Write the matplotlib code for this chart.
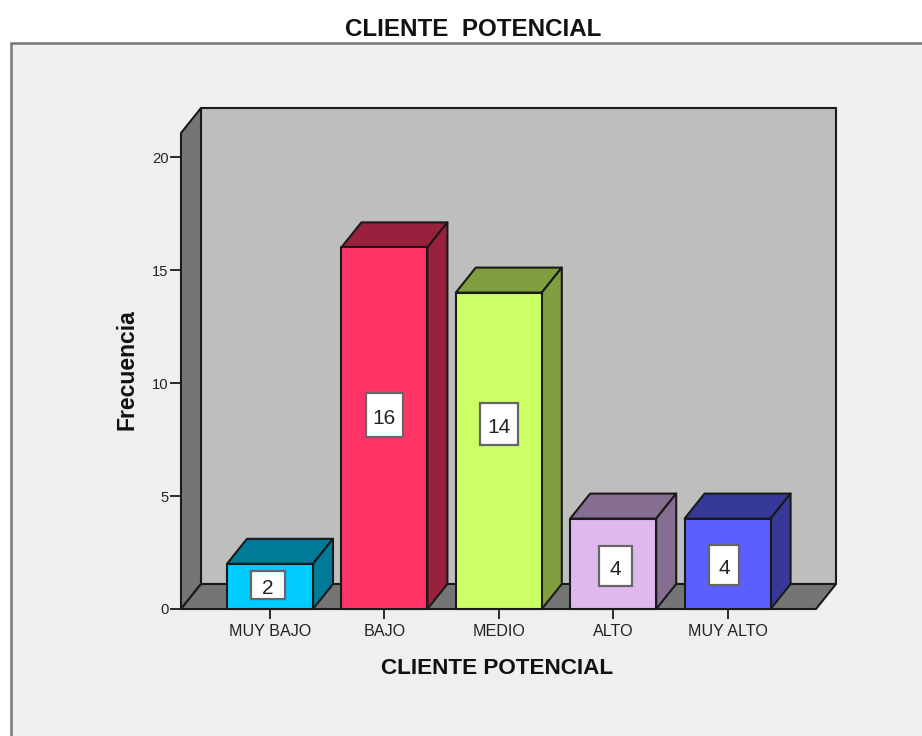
import matplotlib
matplotlib.use("Agg")
import matplotlib.pyplot as plt
from matplotlib.patches import Polygon, Rectangle

categories = ["MUY BAJO", "BAJO", "MEDIO", "ALTO", "MUY ALTO"]
frecuencia = [2, 16, 14, 4, 4]
y_ticks = [0, 5, 10, 15, 20]

front_colors = ["#00CCFF", "#FF3366", "#CCFF66", "#DFB8F0", "#5B5FFF"]
dark_colors = ["#007A99", "#99213D", "#7F9F3F", "#866E90", "#373999"]

# centre (frequency) and size (px) of the white value boxes
box_y = [1.06, 8.6, 8.2, 1.9, 1.95]
box_x = [-0.02, 0.0, 0.0, 0.02, -0.03]
box_w = [34, 37, 38, 33, 30]
box_h = [28, 44, 42, 40, 40]

W, H = 922, 736
LINE = "#1a1a1a"
TEXT = "#222222"
FONT = "Liberation Sans"
BAR_W = 0.752
DX, DY = 20 / 114.4, 25 / 22.6  # depth of the 3D box in data units

fig = plt.figure(figsize=(W / 100, H / 100), dpi=100, facecolor="white")

# grey panel behind the plot, runs off the right and bottom edges
fig.add_artist(Rectangle((11 / W, -0.05), 1.0, 1.05 - 43 / H, transform=fig.transFigure,
                         facecolor="#EFEFEF", edgecolor="#777777", linewidth=1.8, zorder=-1))

ax = fig.add_axes([181 / W, 1 - 609 / H, 635 / W, 476 / H], facecolor="none")
ax.set_xlim(-0.778, 4.773)
ax.set_ylim(0, 476 / 22.6)
for s in ax.spines.values():
    s.set_visible(False)


def poly(pts, color, z=2):
    ax.add_patch(Polygon(pts, closed=True, facecolor=color, edgecolor=LINE,
                         linewidth=1.5, joinstyle="round", clip_on=False, zorder=z))


x0, x1 = ax.get_xlim()
y1 = ax.get_ylim()[1]
poly([(x0 + DX, DY), (x1 + DX, DY), (x1 + DX, y1 + DY), (x0 + DX, y1 + DY)], "#BEBEBE")
poly([(x0, 0), (x0 + DX, DY), (x0 + DX, y1 + DY), (x0, y1)], "#757575")
poly([(x0, 0), (x1, 0), (x1 + DX, DY), (x0 + DX, DY)], "#757575")

for i, v in enumerate(frecuencia):
    a, b = i - BAR_W / 2, i + BAR_W / 2
    z = 3 + i
    poly([(a, v), (b, v), (b + DX, v + DY), (a + DX, v + DY)], dark_colors[i], z)
    poly([(b, 0), (b + DX, DY), (b + DX, v + DY), (b, v)], dark_colors[i], z)
    poly([(a, 0), (b, 0), (b, v), (a, v)], front_colors[i], z)

    # value label in its white box
    bw, bh = box_w[i] / 114.4, box_h[i] / 22.6
    cx = i + box_x[i]
    ax.add_patch(Rectangle((cx - bw / 2, box_y[i] - bh / 2), bw, bh, facecolor="white",
                           edgecolor="#666666", linewidth=1.6, zorder=z + 0.5))
    ax.text(cx, box_y[i] - 0.16, str(v), ha="center", va="center", fontsize=15,
            family=FONT, color=TEXT, zorder=z + 0.6)

ax.set_xticks(range(len(categories)))
ax.set_xticklabels(categories, family=FONT, fontsize=11.6, color=TEXT)
ax.set_yticks(y_ticks)
ax.set_yticklabels(y_ticks, family=FONT, fontsize=10.6, color=TEXT)
ax.tick_params(axis="x", length=7.5, width=1.3, color=LINE, pad=3.5)
ax.tick_params(axis="y", length=8, width=1.3, color=LINE, pad=1)
ax.set_axisbelow(True)

ax.set_xlabel("CLIENTE POTENCIAL", family=FONT, fontsize=16.2, fontweight="bold", color="#111111")
ax.xaxis.set_label_coords((497 - 181) / 635, (609 - 669) / 476)
ax.xaxis.label.set_va("center")
ax.set_ylabel("Frecuencia", family=FONT, fontsize=16.6, fontweight="bold", color="#111111")
ax.yaxis.set_label_coords((127 - 181) / 635, (609 - 370) / 476)
ax.yaxis.label.set_va("center")

fig.text(473 / W, 1 - 29 / H, "CLIENTE  POTENCIAL", ha="center", va="center",
         family=FONT, fontsize=17.4, fontweight="bold", color="#111111")

fig.savefig("out.png", dpi=100)
